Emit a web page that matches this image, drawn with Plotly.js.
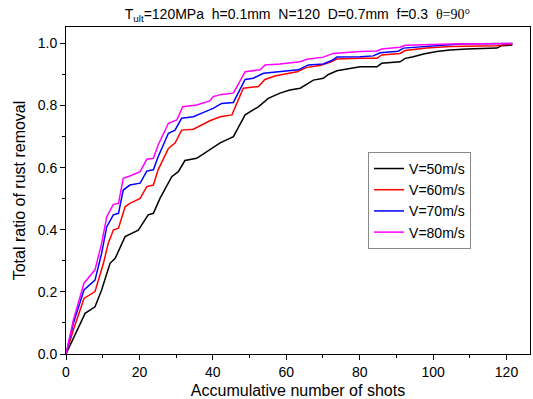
<!DOCTYPE html>
<html>
<head>
<meta charset="utf-8">
<script src="https://cdn.plot.ly/plotly-3.0.1.min.js"></script>
<style>html,body{margin:0;padding:0;background:#fff;}#chart{width:533px;height:399px;}</style>
</head>
<body>
<div id="chart"></div>
<script>
// Data
const names = ["V=50m/s", "V=60m/s", "V=70m/s", "V=80m/s"];
const colors = ["#000000", "#ff0000", "#0000ff", "#ff00ff"];

const x50 = [0, 2.5, 5.2, 7.9, 9.7, 12, 13.4, 16.1, 19.7, 22.4, 23.8, 25.6, 28.8, 30.6, 32.4, 35.6, 39.2, 42, 45.6, 48.8, 52.4, 55.1, 58.3, 61, 63.8, 67.4, 70.1, 71.5, 73.8, 76.5, 80.1, 84.7, 86, 91, 92.4, 94.6, 97.4, 101, 104.6, 109.2, 117.4, 118.7, 121.6];
const y50 = [0, 0.061, 0.131, 0.152, 0.206, 0.292, 0.308, 0.378, 0.399, 0.448, 0.453, 0.501, 0.571, 0.587, 0.623, 0.630, 0.657, 0.680, 0.700, 0.770, 0.796, 0.823, 0.840, 0.850, 0.856, 0.882, 0.888, 0.900, 0.912, 0.917, 0.925, 0.925, 0.936, 0.941, 0.952, 0.957, 0.966, 0.974, 0.979, 0.982, 0.985, 0.993, 0.995];

const x60 = [0, 2, 4.9, 7.9, 10.2, 11.5, 12.9, 14.3, 16.1, 17.4, 20.2, 22, 23.8, 25.1, 27.9, 29.7, 31.5, 34.7, 39.2, 42, 45.2, 48.3, 52.4, 54.2, 56.9, 62.9, 65.6, 69.2, 71.9, 73.8, 80.1, 84.7, 86, 91, 92.4, 98.3, 104.6, 117.4, 121.6];
const y60 = [0, 0.077, 0.179, 0.201, 0.292, 0.356, 0.399, 0.405, 0.474, 0.485, 0.501, 0.539, 0.544, 0.593, 0.662, 0.679, 0.721, 0.724, 0.751, 0.764, 0.770, 0.856, 0.861, 0.884, 0.895, 0.909, 0.923, 0.929, 0.939, 0.950, 0.952, 0.952, 0.963, 0.968, 0.977, 0.985, 0.990, 0.993, 0.998];

const x70 = [0, 2, 4.9, 7.9, 9.7, 11.1, 12.9, 14.3, 15.6, 17.4, 20.2, 22, 23.8, 25.1, 27.9, 29.7, 31.5, 34.7, 37.5, 40.1, 42.4, 45.6, 48.8, 51, 53.8, 57.4, 63.3, 66, 70.1, 72.4, 73.8, 80.1, 83.7, 85.6, 90.5, 91.9, 99.2, 107.4, 121.6];
const y70 = [0, 0.099, 0.206, 0.238, 0.324, 0.410, 0.448, 0.453, 0.528, 0.544, 0.550, 0.589, 0.593, 0.635, 0.711, 0.721, 0.759, 0.764, 0.778, 0.791, 0.807, 0.810, 0.884, 0.888, 0.904, 0.909, 0.915, 0.931, 0.934, 0.945, 0.956, 0.957, 0.960, 0.970, 0.975, 0.985, 0.992, 0.998, 1.0];

const x80 = [0, 2, 4.9, 7.9, 9.7, 11.1, 12.9, 14.3, 15.6, 17.4, 20.2, 22, 23.8, 25.1, 27.9, 30.2, 31.8, 35.6, 39.2, 40.1, 42.4, 45.6, 48.8, 52.9, 54.2, 58.3, 63.8, 65.6, 70.1, 72.8, 80.1, 84.7, 86, 91, 92.4, 104.6, 121.6];
const y80 = [0, 0.109, 0.228, 0.271, 0.356, 0.442, 0.482, 0.485, 0.566, 0.573, 0.587, 0.627, 0.630, 0.673, 0.743, 0.754, 0.796, 0.802, 0.815, 0.829, 0.836, 0.840, 0.909, 0.915, 0.931, 0.934, 0.941, 0.949, 0.956, 0.968, 0.974, 0.976, 0.982, 0.988, 0.994, 0.998, 1.0];

const xTicks = [0, 20, 40, 60, 80, 100, 120];
const yTicks = [0.0, 0.2, 0.4, 0.6, 0.8, 1.0];

const xs = [x50, x60, x70, x80];
const ys = [y50, y60, y70, y80];

const traces = names.map((n, i) => ({
  x: xs[i], y: ys[i], name: n, type: 'scatter', mode: 'lines',
  line: {color: colors[i], width: 1.5}
}));

const font = {family: 'Arial, "Liberation Sans", sans-serif', color: '#000'};

const layout = {
  width: 533, height: 399,
  margin: {l: 66, r: 3, t: 27, b: 45},
  paper_bgcolor: '#fff', plot_bgcolor: '#fff',
  font: Object.assign({size: 14}, font),
  showlegend: true,
  title: {
    text: 'T<sub>ult</sub>=120MPa  h=0.1mm  N=120  D=0.7mm  f=0.3  <span style="font-family:\'Liberation Serif\',\'Times New Roman\',serif">θ=90°</span>',
    font: Object.assign({size: 14}, font),
    x: 0.558, xanchor: 'center', xref: 'container',
    y: 1 - 14/399, yanchor: 'middle', yref: 'container'
  },
  xaxis: {
    range: [0, 126.4], tickvals: xTicks, ticktext: xTicks.map(String),
    ticks: 'outside', ticklen: 5, tickwidth: 1, tickcolor: '#000',
    minor: {dtick: 10, tick0: 0, ticks: 'outside', ticklen: 3, tickcolor: '#000'},
    showline: true, linecolor: '#000', linewidth: 1, mirror: true,
    showgrid: false, zeroline: false,
    tickfont: Object.assign({size: 14}, font),
    title: {text: 'Accumulative number of shots', font: Object.assign({size: 16}, font), standoff: 6}
  },
  yaxis: {
    range: [0, 1.053], tickvals: yTicks, ticktext: yTicks.map(v => v.toFixed(1)),
    ticks: 'outside', ticklen: 5, tickwidth: 1, tickcolor: '#000',
    minor: {dtick: 0.1, tick0: 0, ticks: 'outside', ticklen: 3, tickcolor: '#000'},
    showline: true, linecolor: '#000', linewidth: 1, mirror: true,
    showgrid: false, zeroline: false,
    tickfont: Object.assign({size: 14}, font),
    title: {text: 'Total ratio of rust removal', font: Object.assign({size: 16}, font), standoff: 8}
  },
  legend: {
    x: 0.651, y: 0.618, xanchor: 'left', yanchor: 'top',
    bgcolor: '#fff', bordercolor: '#888', borderwidth: 1,
    font: Object.assign({size: 14}, font),
    tracegroupgap: 0, itemwidth: 30
  }
};

Plotly.newPlot('chart', traces, layout, {displayModeBar: false, staticPlot: true});
</script>
</body>
</html>
